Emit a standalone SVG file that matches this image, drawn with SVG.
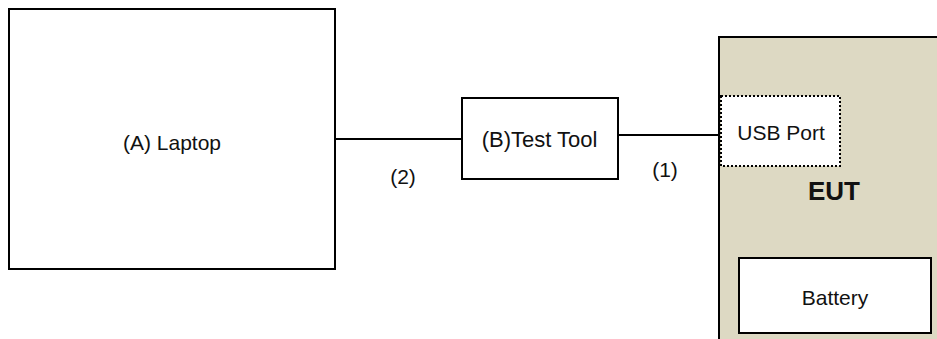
<svg xmlns="http://www.w3.org/2000/svg" width="937" height="339" viewBox="0 0 937 339">
  <style>
    .box { fill: #ffffff; stroke: #000000; stroke-width: 2; }
    .eut { fill: #DDD9C3; stroke: #000000; stroke-width: 2; }
    .port { fill: #ffffff; stroke: #000000; stroke-width: 2; stroke-dasharray: 2 2; }
    .wire { stroke: #000000; stroke-width: 2; fill: none; }
    text { font-family: "Liberation Sans", Arial, sans-serif; font-size: 21px; fill: #111111; text-anchor: middle; }
    .bold { font-weight: bold; font-size: 26px; }
    .tool { font-size: 22px; }
  </style>

  <!-- equipment under test, running off the right and bottom edges -->
  <g id="eut">
    <rect class="eut" x="719" y="37" width="230" height="320"/>
    <text class="bold" x="834" y="200">EUT</text>
  </g>

  <g id="usb-port">
    <rect class="port" x="721" y="96" width="119" height="70"/>
    <text x="781" y="140">USB Port</text>
  </g>

  <g id="battery">
    <rect class="box" x="739" y="258" width="192" height="75"/>
    <text x="835" y="305">Battery</text>
  </g>

  <g id="laptop">
    <rect class="box" x="9" y="9" width="326" height="260"/>
    <text x="172" y="150">(A) Laptop</text>
  </g>

  <g id="test-tool">
    <rect class="box" x="462" y="98" width="156" height="81"/>
    <text class="tool" x="539.5" y="147">(B)Test Tool</text>
  </g>

  <!-- cables -->
  <g id="connectors">
    <line class="wire" x1="335" y1="139" x2="462" y2="139"/>
    <line class="wire" x1="618" y1="135" x2="720" y2="135"/>
    <text x="403" y="184">(2)</text>
    <text x="665" y="177">(1)</text>
  </g>
</svg>
